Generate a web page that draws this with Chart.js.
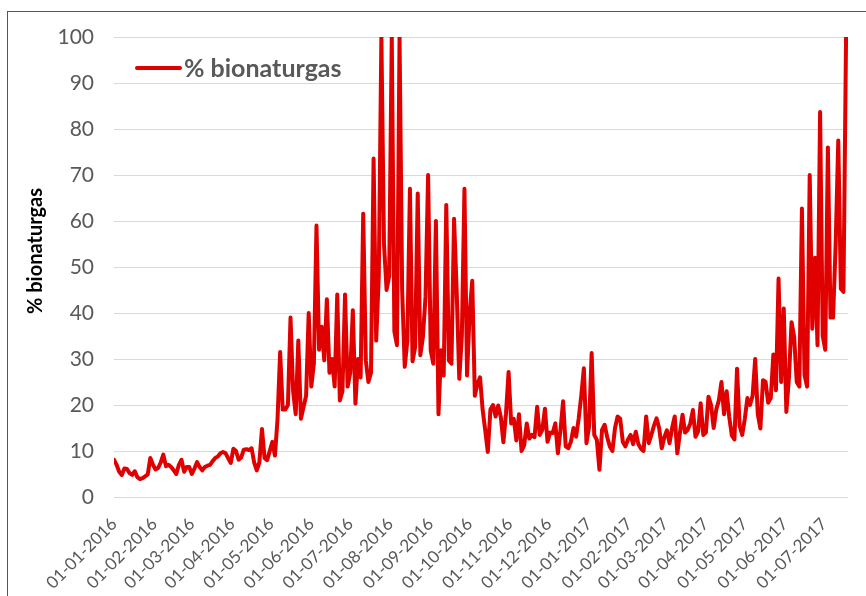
<!DOCTYPE html>
<html>
<head>
<meta charset="utf-8">
<script src="https://cdn.jsdelivr.net/npm/chart.js@4.4.1/dist/chart.umd.min.js"></script>
<style>
  html, body { margin: 0; padding: 0; background: #fff; overflow: hidden; }
  #frame { position: absolute; left: 7px; top: 11px; width: 900px; height: 640px; border: 1px solid #555; }
  #wrap { position: absolute; left: 0; top: 0; width: 866px; height: 596px; }
</style>
</head>
<body>
<div id="frame"></div>
<div id="wrap"><canvas id="chart" width="866" height="596"></canvas></div>
<script>
// --- DATA ---
const seriesName = '% bionaturgas';
const startDate = '01-01-2016';
const stepDays = 2; // one reading every two days
const tickLabels = [
  '01-01-2016', '01-02-2016', '01-03-2016', '01-04-2016', '01-05-2016', '01-06-2016',
  '01-07-2016', '01-08-2016', '01-09-2016', '01-10-2016', '01-11-2016', '01-12-2016',
  '01-01-2017', '01-02-2017', '01-03-2017', '01-04-2017', '01-05-2017', '01-06-2017',
  '01-07-2017'
];
const values = [
  8.1, 7, 5.5, 4.8, 6.2, 6.1, 5.2, 4.8, 5.6, 4.3,
  3.9, 4.1, 4.5, 4.9, 8.5, 7, 6, 6.3, 7.5, 9.2,
  6.7, 7, 6.5, 5.8, 5, 7, 8.1, 5.5, 6.5, 6.5,
  5, 6.2, 7.6, 6.5, 5.8, 6.5, 6.8, 7, 7.8, 8.5,
  8.8, 9.5, 9.8, 9.5, 8.4, 7.4, 10.5, 10, 8.1, 8.6,
  10.3, 10.4, 10.2, 10.6, 7.5, 5.8, 7.5, 14.8, 8.5, 8,
  10, 12, 9, 17, 31.5, 19, 19, 20, 39, 23,
  18, 34, 17, 19.5, 22, 40, 24, 29, 59, 32,
  37, 29.7, 43, 27, 30, 24, 44, 21, 23, 44,
  24, 27, 40.6, 20.3, 30, 26, 61.6, 29.7, 25, 27,
  73.6, 34, 48, 100, 55, 45, 48, 100, 36, 33,
  100, 45, 28.3, 34, 67, 29.5, 32.6, 66, 30.8, 34.8,
  43.5, 70, 31.9, 29, 60, 18, 31.9, 26.4, 63.5, 29.7,
  29, 60.5, 44.9, 25.7, 35, 67, 26.4, 40, 47, 22,
  24.6, 26, 19, 14.5, 9.8, 19, 20, 17.5, 19.9, 17.4,
  11.9, 18.1, 27.2, 16, 17, 12.3, 18, 10, 11.2, 16,
  12.7, 13.5, 13, 19.6, 13.5, 14.6, 19.2, 12, 14, 13.9,
  16, 9.5, 14.6, 20.8, 11, 10.6, 12, 15, 13.1, 17,
  22, 28, 11.7, 15.3, 31.3, 13.5, 12.4, 5.9, 14.6, 15.7,
  13, 11, 10, 15, 17.5, 17, 12, 11, 12.5, 13.5,
  11.5, 14.2, 11.5, 10.5, 10, 17.5, 11.7, 13.5, 15.5, 17.1,
  15, 10.6, 13, 14.5, 11.7, 15, 17.5, 9.5, 13.9, 17.9,
  14, 14.6, 16, 18.9, 13.1, 14.2, 20.4, 13.5, 14, 21.8,
  20, 15, 19, 21, 25, 18, 23, 17.4, 13.4, 12.5,
  27.9, 15.5, 13.5, 17, 21.5, 20, 22, 30, 18, 14.9,
  25.4, 25, 20.5, 21.5, 31, 23.2, 47.5, 25, 41, 18.5,
  26, 38, 34.8, 25, 24, 62.7, 26.5, 24, 70, 36.6,
  52, 33, 83.7, 35, 32, 76, 39, 39, 55, 77.5,
  45.3, 44.6, 100
];

// --- HELPERS ---
function dayOf(label) {
  const [d, m, y] = label.split('-').map(Number);
  const [d0, m0, y0] = startDate.split('-').map(Number);
  return Math.round((Date.UTC(y, m - 1, d) - Date.UTC(y0, m0 - 1, d0)) / 86400000);
}
const tickDays = tickLabels.map(dayOf);
const points = values.map((v, i) => ({ x: i * stepDays, y: v }));

// --- PLUGINS ---
// legend sits inside the plot, top left, like the original
const innerLegend = {
  id: 'innerLegend',
  afterDraw(chart) {
    const { ctx, chartArea } = chart;
    const ds = chart.data.datasets[0];
    const y = chartArea.top + 31;
    const x0 = chartArea.left + 23;
    ctx.save();
    ctx.strokeStyle = ds.borderColor;
    ctx.lineWidth = ds.borderWidth;
    ctx.lineCap = 'round';
    ctx.beginPath();
    ctx.moveTo(x0, y);
    ctx.lineTo(x0 + 43, y);
    ctx.stroke();
    ctx.font = 'bold 25px Lato';
    ctx.fillStyle = '#595959';
    ctx.textBaseline = 'middle';
    ctx.fillText(ds.label, x0 + 47, y + 1);
    ctx.restore();
  }
};

const axisTitle = {
  id: 'axisTitle',
  afterDraw(chart) {
    const { ctx } = chart;
    ctx.save();
    ctx.translate(36, 251);
    ctx.rotate(-Math.PI / 2);
    ctx.font = 'bold 20px Lato';
    ctx.fillStyle = '#000';
    ctx.textAlign = 'center';
    ctx.textBaseline = 'middle';
    ctx.fillText(seriesName, 0, 0);
    ctx.restore();
  }
};

// --- CHART ---
new Chart(document.getElementById('chart'), {
  type: 'line',
  data: {
    datasets: [{
      label: seriesName,
      data: points,
      borderColor: '#e00000',
      borderWidth: 4,
      borderJoinStyle: 'round',
      borderCapStyle: 'round',
      pointRadius: 0,
      tension: 0,
      fill: false
    }]
  },
  options: {
    responsive: false,
    animation: false,
    devicePixelRatio: 1,
    layout: { padding: { left: 0, top: 37, right: 18, bottom: 0 } },
    plugins: { legend: { display: false }, tooltip: { enabled: false } },
    scales: {
      x: {
        type: 'linear',
        min: 0,
        max: 565.5,
        afterFit: s => { s.height = 99; },
        afterBuildTicks: s => { s.ticks = tickDays.map(v => ({ value: v })); },
        grid: { display: false },
        border: { display: false },
        ticks: {
          autoSkip: false,
          maxRotation: 45,
          minRotation: 45,
          padding: 9,
          color: '#595959',
          font: { family: 'Lato', size: 17 },
          callback: v => tickLabels[tickDays.indexOf(v)] || ''
        }
      },
      y: {
        min: 0,
        max: 100,
        afterFit: s => { s.width = 114; },
        grid: { color: '#d9d9d9', lineWidth: 1, drawTicks: false },
        border: { display: false },
        ticks: {
          stepSize: 10,
          padding: 20,
          color: '#595959',
          font: { family: 'Lato', size: 21 }
        }
      }
    }
  },
  plugins: [innerLegend, axisTitle]
});
</script>
</body>
</html>
